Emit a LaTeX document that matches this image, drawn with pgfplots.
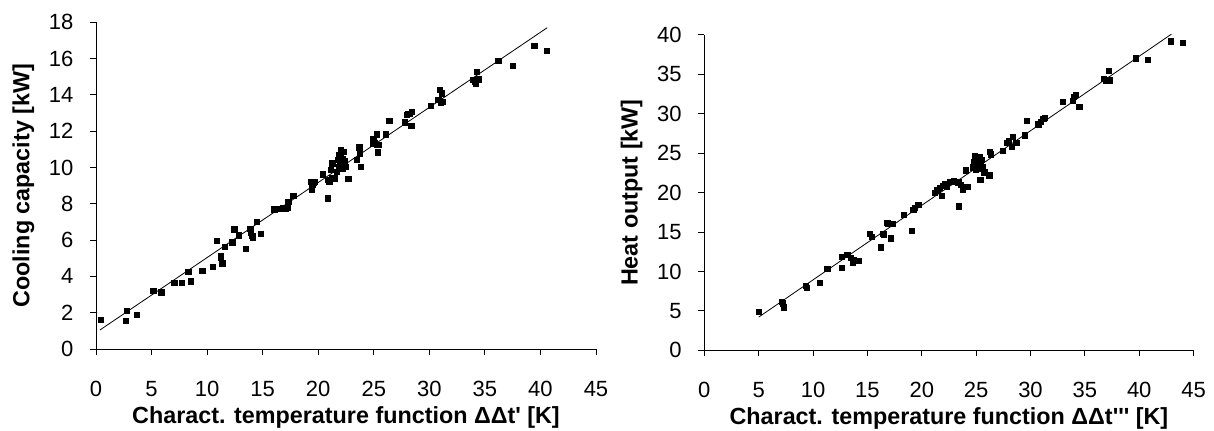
\documentclass[border=0pt]{standalone}
\usepackage{fontspec}
\setmainfont{Liberation Sans}
\usepackage{pgfplots}
\pgfplotsset{compat=1.18}

\pgfplotsset{
  excel/.style={
    scale only axis,
    axis lines=left,
    axis line style={-, line width=0.7pt},
    tick align=outside,
    major tick length=4.5pt,
    tick style={line width=0.7pt, black},
    xmin=0, xmax=45, xtick distance=5,
    /pgf/number format/assume math mode=true,
    tick label style={font=\fontsize{16.5}{19}\selectfont},
    xticklabel style={yshift=-16pt},
    yticklabel style={xshift=-9pt},
    label style={font=\fontsize{17.5}{21}\selectfont\bfseries},
    xlabel style={at={(axis description cs:0.5,0)}, anchor=base, yshift=-56pt},
    clip=false,
  },
  pts/.style={only marks, mark=square*, mark size=2pt, black},
  fit/.style={no marks, black, line width=0.6pt},
}

\begin{document}
\begin{tikzpicture}
\path[use as bounding box] (0,0) rectangle (910.5pt,322.5pt);

% cooling
\begin{axis}[excel, at={(72pt,60.75pt)}, anchor=south west,
  width=375pt, height=245pt,
  ymin=0, ymax=18, ytick distance=2,
  xlabel={Charact. temperature function ΔΔt\textquotesingle{} [K]},
  ylabel={Cooling capacity [kW]},
  ylabel style={at={([xshift=-50pt]axis description cs:0,0.5)}, anchor=base},
]
\addplot[fit] coordinates {(0.36,1.05) (40.6,17.7)};
\addplot[pts] coordinates {
(0.45,1.60) (2.67,1.56) (2.79,2.09) (3.69,1.89) (5.16,3.21) (5.88,3.12)
(7.03,3.65) (7.71,3.65) (8.31,4.25) (8.52,3.74) (9.57,4.30) (10.52,4.54)
(10.86,5.96) (11.22,5.12) (11.25,5.05) (11.37,4.72) (11.60,5.64) (12.27,5.88)
(12.45,6.60) (12.87,6.27) (13.50,5.54) (13.88,6.62) (13.92,6.40) (14.07,6.23)
(14.12,6.12) (14.45,7.01) (14.82,6.35) (16.05,7.70) (16.20,7.72) (16.50,7.72)
(16.80,7.80) (17.10,7.74) (17.20,7.78) (17.30,8.12) (17.76,8.43) (19.35,9.22)
(19.47,9.04) (19.40,8.80) (19.56,9.18) (19.71,9.22) (20.40,9.63) (20.85,8.30)
(20.91,9.31) (21.00,9.25) (21.10,9.86) (21.20,9.40) (21.27,10.23) (21.51,9.40)
(21.66,9.77) (21.81,10.41) (21.90,10.69) (22.02,10.96) (22.26,10.87) (21.95,10.20)
(22.10,10.30) (22.20,10.50) (21.85,10.05) (22.30,10.15) (22.00,10.60) (22.15,9.95)
(22.40,10.35) (22.50,10.05) (22.71,9.37) (23.46,10.41) (23.70,11.11) (23.76,10.74)
(23.85,10.05) (24.90,11.33) (24.96,11.60) (25.05,11.37) (25.26,11.84) (25.26,11.24)
(25.40,11.24) (25.35,10.84) (26.07,11.84) (26.40,12.57) (27.80,12.50) (27.96,12.89)
(28.10,12.98) (28.26,12.98) (28.40,13.07) (28.38,12.29) (30.15,13.42) (30.80,13.72)
(31.20,13.63) (30.96,14.27) (31.10,14.09) (31.00,13.60) (33.90,14.82) (34.20,14.64)
(34.40,14.86) (34.10,14.72) (34.25,15.28) (36.20,15.87) (37.50,15.61) (39.45,16.71)
(40.56,16.42)
};
\end{axis}

% heating
\begin{axis}[excel, at={(528.2pt,59.8pt)}, anchor=south west,
  width=367pt, height=236.5pt,
  ymin=0, ymax=40, ytick distance=5,
  xlabel={Charact. temperature function ΔΔt\textquotesingle\textquotesingle\textquotesingle{} [K]},
  ylabel={Heat output [kW]},
  ylabel style={at={([xshift=-50pt]axis description cs:0,0.5)}, anchor=base},
]
\addplot[fit] coordinates {(5.0,4.2) (42.96,40.1)};
\addplot[pts] coordinates {
(5.00,4.91) (7.11,6.18) (7.20,5.98) (7.33,5.47) (9.35,8.18) (9.41,7.97)
(10.65,8.60) (11.30,10.34) (12.63,11.83) (12.63,10.43) (13.15,12.12) (13.48,11.70)
(13.64,11.15) (13.76,11.49) (14.15,11.32) (15.23,14.80) (15.39,14.37) (16.21,13.06)
(16.40,14.78) (16.50,14.70) (16.76,16.15) (16.90,16.10) (17.16,14.22) (17.30,16.05)
(18.35,17.20) (19.06,15.12) (19.21,17.80) (19.37,18.10) (19.67,18.45) (21.20,20.00)
(21.42,20.31) (21.66,20.61) (21.82,19.58) (21.91,20.90) (22.12,21.10) (22.33,20.81)
(22.60,21.40) (22.95,21.45) (23.35,21.33) (23.41,18.27) (23.60,21.03) (23.78,20.44)
(24.17,20.72) (24.02,22.83) (24.70,23.20) (24.80,23.90) (24.90,24.30) (25.00,23.60)
(25.10,24.10) (25.20,23.40) (25.30,24.50) (24.95,22.90) (25.40,23.80) (25.60,23.20)
(25.15,23.00) (24.85,24.60) (25.50,24.20) (25.38,21.62) (25.74,22.56) (26.20,22.18)
(26.26,25.14) (26.32,24.88) (27.43,25.27) (27.79,26.33) (28.03,26.54) (28.40,27.10)
(28.25,25.83) (28.70,26.33) (29.48,27.27) (29.63,29.09) (30.70,28.66) (30.95,28.96)
(31.16,29.39) (31.31,29.52) (32.94,31.55) (33.86,31.63) (33.98,32.19) (34.16,32.39)
(34.47,30.92) (36.74,34.48) (36.98,34.17) (37.29,34.26) (37.20,35.45) (39.65,37.06)
(40.81,36.81) (42.90,39.19) (44.03,39.01)
};
\end{axis}
\end{tikzpicture}
\end{document}
